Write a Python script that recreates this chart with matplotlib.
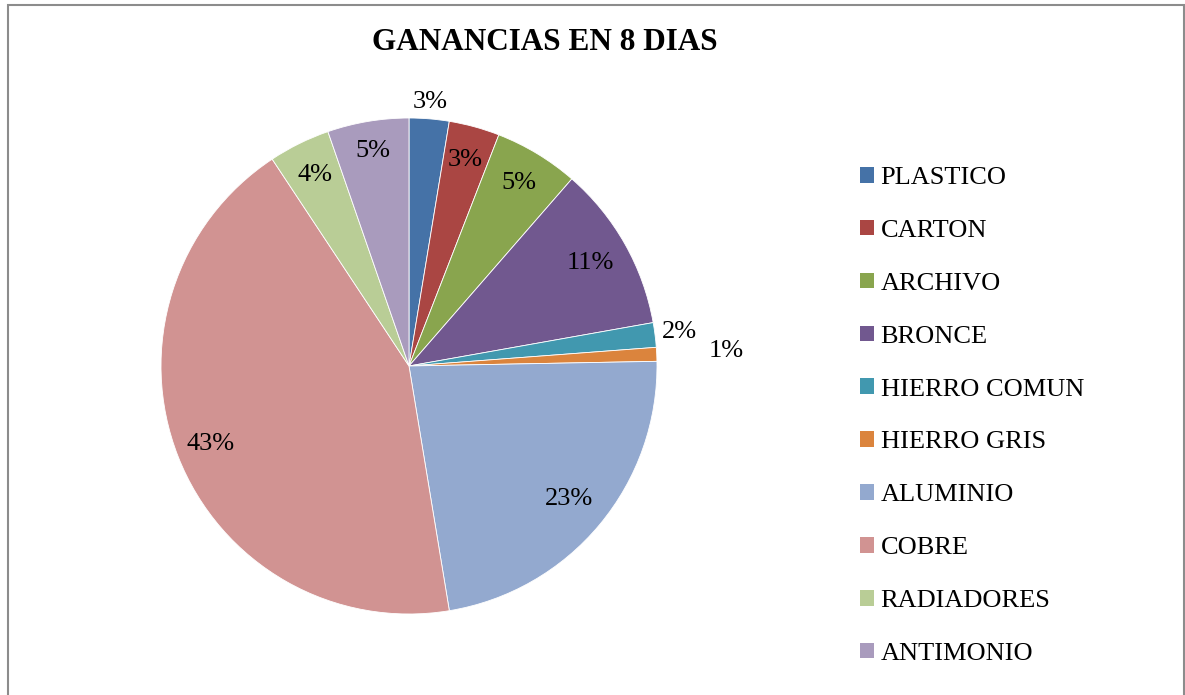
import matplotlib
matplotlib.use("Agg")
import matplotlib.pyplot as plt
from matplotlib.patches import Rectangle, Patch
import numpy as np

plt.rcParams['font.family'] = ['Liberation Serif', 'DejaVu Serif']

categories = ["PLASTICO", "CARTON", "ARCHIVO", "BRONCE", "HIERRO COMUN",
              "HIERRO GRIS", "ALUMINIO", "COBRE", "RADIADORES", "ANTIMONIO"]
values = [2.6, 3.3, 5.5, 10.8, 1.6, 0.9, 22.7, 43.3, 4.0, 5.3]
pct_labels = ["3%", "3%", "5%", "11%", "2%", "1%", "23%", "43%", "4%", "5%"]
colors = ["#4572A7", "#AA4643", "#89A54E", "#71588F", "#4198AF",
          "#DB843D", "#93A9CF", "#D19392", "#B9CD96", "#A99BBD"]
label_dist = [1.07, 0.86, 0.86, 0.84, 1.10, 1.28, 0.84, 0.86, 0.86, 0.88]

W, H = 1185, 695
fig = plt.figure(figsize=(W / 100, H / 100), dpi=100)

cx, cy, r = 409, 366, 248
ax = fig.add_axes([(cx - r) / W, (H - cy - r) / H, 2 * r / W, 2 * r / H])
wedges, _ = ax.pie(values, colors=colors, startangle=90, counterclock=False,
                   radius=1, wedgeprops=dict(edgecolor="white", linewidth=0.6))
ax.set_xlim(-1, 1)
ax.set_ylim(-1, 1)
ax.set_aspect("equal")
ax.axis("off")

for w, lab, d in zip(wedges, pct_labels, label_dist):
    ang = np.deg2rad((w.theta1 + w.theta2) / 2)
    ax.text(d * np.cos(ang), d * np.sin(ang), lab, ha="center", va="center",
            fontsize=19, color="black", clip_on=False)

fig.text(545 / W, 1 - 42 / H, "GANANCIAS EN 8 DIAS", ha="center", va="center",
         fontsize=22.5, fontweight="bold")

handles = [Patch(facecolor=c, edgecolor="none") for c in colors]
leg = fig.legend(handles, categories, loc="upper left",
                 bbox_to_anchor=(860 / W, 1 - 167 / H), frameon=False,
                 fontsize=19, handlelength=0.53, handleheight=0.53,
                 handletextpad=0.25, labelspacing=1.165, borderaxespad=0,
                 borderpad=0)

fig.patches.append(Rectangle((8 / W, -0.05), (1184 - 8) / W, 1.05 - 5 / H,
                             transform=fig.transFigure, fill=False,
                             edgecolor="#8c8c8c", linewidth=1.5))

fig.savefig("out.png", dpi=100)
